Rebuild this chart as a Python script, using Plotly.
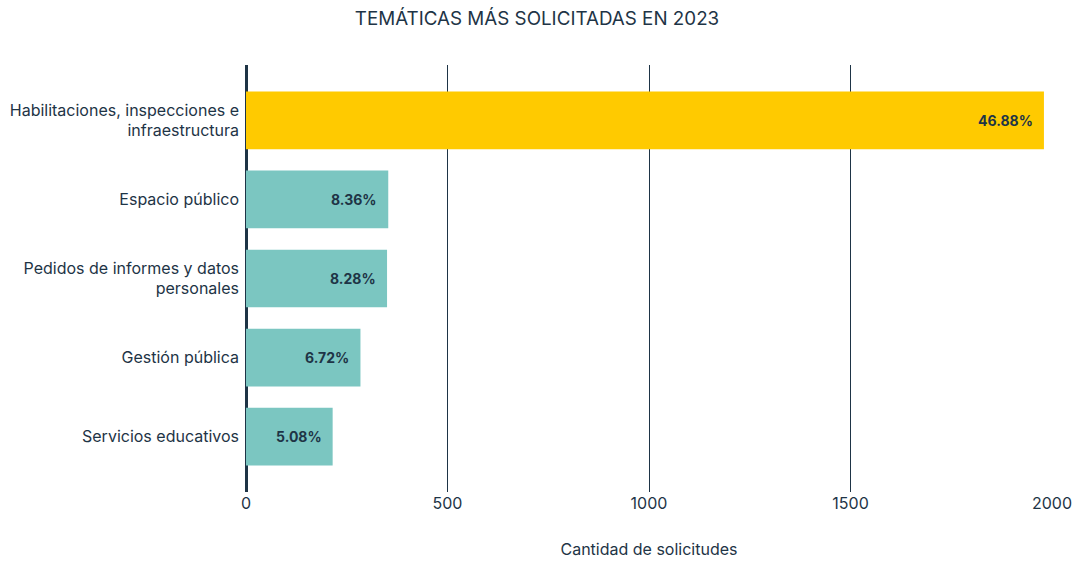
import plotly.graph_objects as go

categories = [
    "Habilitaciones, inspecciones e<br>infraestructura",
    "Espacio público",
    "Pedidos de informes y datos<br>personales",
    "Gestión pública",
    "Servicios educativos",
]
values = [1980, 353, 350, 284, 215]
percent_labels = ["46.88%", "8.36%", "8.28%", "6.72%", "5.08%"]
colors = ["#FFCA00", "#7BC6C1", "#7BC6C1", "#7BC6C1", "#7BC6C1"]
tick_vals = [0, 500, 1000, 1500, 2000]

navy = "#1E3446"
font_family = "Inter, Liberation Sans, Arial, sans-serif"

fig = go.Figure(
    go.Bar(
        x=values,
        y=categories,
        orientation="h",
        marker=dict(color=colors, line=dict(width=0)),
        hoverinfo="skip",
    )
)

for cat, val, lab in zip(categories, values, percent_labels):
    fig.add_annotation(
        x=val,
        y=cat,
        text=f"<b>{lab}</b>",
        xanchor="right",
        yanchor="middle",
        xshift=-9,
        showarrow=False,
        font=dict(family=font_family, size=14, color=navy),
    )

fig.update_layout(
    width=1074,
    height=561,
    margin=dict(l=246, r=22, t=65, b=69, autoexpand=False),
    paper_bgcolor="white",
    plot_bgcolor="white",
    bargap=0.27,
    showlegend=False,
    font=dict(family=font_family, color=navy, size=16),
    title=dict(
        text="TEMÁTICAS MÁS SOLICITADAS EN 2023",
        x=0.5,
        xanchor="center",
        y=1 - 18 / 561,
        yanchor="middle",
        font=dict(size=18.8, color=navy, family=font_family),
    ),
)

fig.update_xaxes(
    range=[0, 2000],
    tickvals=tick_vals,
    showgrid=True,
    gridcolor=navy,
    gridwidth=1,
    zeroline=True,
    zerolinecolor=navy,
    zerolinewidth=2.5,
    showline=False,
    ticks="",
    automargin=False,
    tickfont=dict(size=16, color=navy),
    title=dict(text="Cantidad de solicitudes", standoff=31, font=dict(size=16, color=navy)),
)

fig.update_yaxes(
    categoryorder="array",
    categoryarray=categories,
    autorange=False,
    range=[4.7, -0.7],
    showgrid=False,
    zeroline=False,
    showline=False,
    ticks="",
    automargin=False,
    ticklabelstandoff=6,
    tickfont=dict(size=16, color=navy),
)

fig.write_html(
    "out.html",
    config={"displayModeBar": False},
    post_script="document.body.style.margin='0';document.body.style.overflow='hidden';",
)
